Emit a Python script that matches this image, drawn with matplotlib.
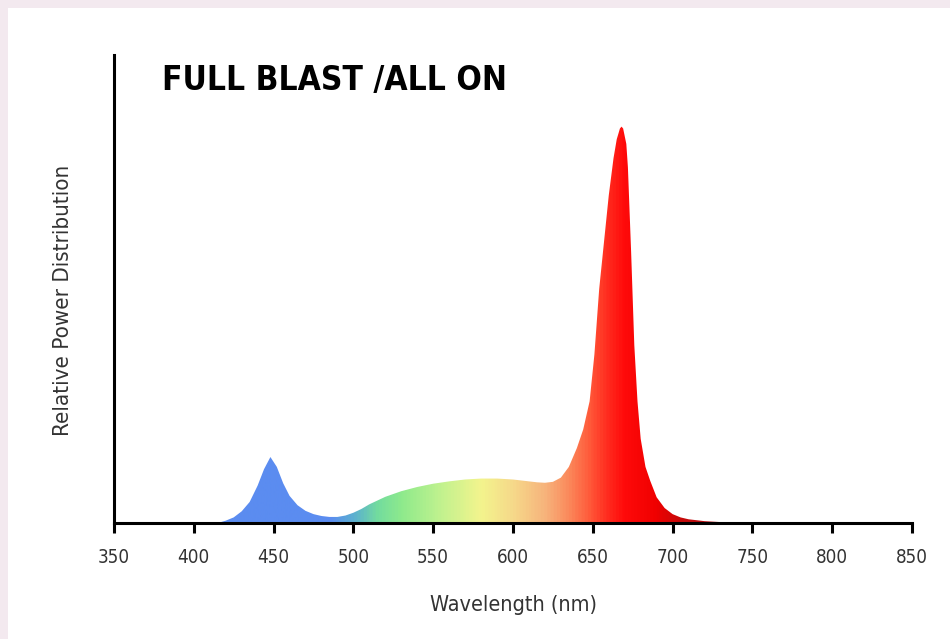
import numpy as np
import matplotlib
matplotlib.use("Agg")
import matplotlib.pyplot as plt
from matplotlib.colors import LinearSegmentedColormap
from matplotlib.patches import Rectangle

# spectrum (wavelength nm, relative power)
wavelength = [415, 420, 425, 430, 435, 440, 444, 448, 452, 456, 460, 465, 470,
              475, 480, 485, 490, 495, 500, 505, 510, 520, 530, 540, 550, 560,
              570, 580, 590, 600, 610, 615, 620, 625, 630, 635, 640, 644, 648,
              651, 654, 657, 660, 663, 665, 667, 668, 669, 671, 672, 674, 676,
              678, 680, 683, 686, 690, 695, 700, 705, 710, 720, 730, 740]
power = [0.0, 0.005, 0.012, 0.025, 0.045, 0.08, 0.115, 0.141, 0.12, 0.085,
         0.058, 0.038, 0.026, 0.019, 0.015, 0.013, 0.013, 0.016, 0.022, 0.03,
         0.04, 0.056, 0.068, 0.077, 0.084, 0.089, 0.093, 0.095, 0.095, 0.093,
         0.089, 0.087, 0.086, 0.088, 0.097, 0.12, 0.16, 0.2, 0.26, 0.36, 0.5,
         0.6, 0.7, 0.78, 0.82, 0.843, 0.847, 0.843, 0.81, 0.76, 0.58, 0.38,
         0.26, 0.18, 0.12, 0.09, 0.055, 0.032, 0.019, 0.012, 0.008, 0.004,
         0.002, 0.0]

xticks = [350, 400, 450, 500, 550, 600, 650, 700, 750, 800, 850]

# colour stops of the spectrum fill
stop_nm = [350, 485, 500, 515, 530, 555, 580, 600, 620, 635, 648, 660, 670,
           690, 705, 740, 850]
stop_col = ["#5b8cf0", "#5b8cf0", "#5bb0d0", "#73dc9e", "#8eea8c", "#c2f28f",
            "#f3f48d", "#f6d98a", "#f7b47c", "#fb8a5c", "#ff5a3a", "#ff2a1e",
            "#ff0a0a", "#f00000", "#c80a0a", "#a01018", "#a01018"]

narrow = dict(family="DejaVu Sans", stretch="condensed")

fig = plt.figure(figsize=(9.5, 6.39), dpi=100, facecolor="#f3e9ef")
fig.patches.append(Rectangle((8 / 950, 0), 1, 631 / 639, transform=fig.transFigure,
                             facecolor="white", edgecolor="none", zorder=-10))
ax = fig.add_axes([0.12, 0.1815, 0.84, 0.7324])
ax.set_facecolor("none")

poly = ax.fill_between(wavelength, power, 0, color="none", lw=0)
pos = [(n - 350) / 500 for n in stop_nm]
cmap = LinearSegmentedColormap.from_list("spec", list(zip(pos, stop_col)))
img = ax.imshow(np.linspace(0, 1, 1000).reshape(1, -1), cmap=cmap, aspect="auto",
                extent=[350, 850, 0, 1], origin="lower", interpolation="bilinear")
img.set_clip_path(poly.get_paths()[0], transform=ax.transData)

ax.set_xlim(350, 850)
ax.set_ylim(0, 1)
ax.set_xticks(xticks)
ax.set_yticks([])
for s in ["top", "right"]:
    ax.spines[s].set_visible(False)
for s in ["left", "bottom"]:
    ax.spines[s].set_linewidth(2.2)
    ax.spines[s].set_color("black")
ax.tick_params(axis="x", direction="out", length=7, width=2.2, pad=11,
               labelsize=13.5, labelcolor="#333333")
for lab in ax.get_xticklabels():
    lab.set_fontstretch("condensed")

ax.set_xlabel("Wavelength (nm)", fontsize=15.5, color="#333333", labelpad=20,
              **narrow)
ax.set_ylabel("Relative Power Distribution", fontsize=16, color="#333333",
              **narrow)
ax.yaxis.set_label_coords(-0.051, 0.476)

ax.text(0.06, 0.945, "FULL BLAST /ALL ON", transform=ax.transAxes, fontsize=24,
        fontweight="bold", va="center", ha="left", color="black", **narrow)

fig.savefig("out.png", dpi=100, facecolor=fig.get_facecolor())
